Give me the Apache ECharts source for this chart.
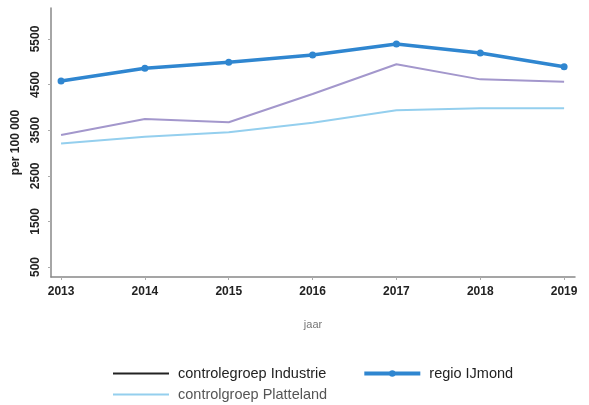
<!DOCTYPE html>
<html>
<head>
<meta charset="utf-8">
<script src="https://cdn.jsdelivr.net/npm/echarts@6/dist/echarts.min.js"></script>
<style>
  body { margin: 0; background: #fff; }
  #chart { width: 589px; height: 405px; }
</style>
</head>
<body>
<div id="chart"></div>
<script>
// jaren en waarden per 100 000
var years = [2013, 2014, 2015, 2016, 2017, 2018, 2019];
var regioIJmond = [4580, 4857, 4990, 5150, 5390, 5195, 4890];
var industrie = [3395, 3745, 3675, 4295, 4945, 4615, 4560];
var platteland = [3210, 3355, 3455, 3665, 3940, 3980, 3980];
var yTicks = [500, 1500, 2500, 3500, 4500, 5500];

function pairs(vals) {
  return years.map(function (y, i) { return [y, vals[i]]; });
}

var chart = echarts.init(document.getElementById('chart'));
var font = 'Liberation Sans, Arial, sans-serif';

var option = {
  animation: false,
  grid: { left: 51, right: 14, top: 8, bottom: 128 },
  xAxis: {
    type: 'value',
    min: 2012.88,
    max: 2019.13,
    name: 'jaar',
    nameLocation: 'middle',
    nameGap: 42,
    nameTextStyle: { color: '#777', fontSize: 11, fontFamily: font },
    splitLine: { show: false },
    axisLine: { show: true, lineStyle: { color: '#888', width: 1.5 } },
    axisTick: { show: true, length: 3, lineStyle: { color: '#aaa' }, customValues: years },
    axisLabel: {
      customValues: years,
      color: '#222', fontSize: 12, fontWeight: 'bold', fontFamily: font, margin: 9,
      formatter: function (v) { return String(v); }
    }
  },
  yAxis: {
    type: 'value',
    min: 281,
    max: 6180,
    name: 'per 100 000',
    nameLocation: 'middle',
    nameRotate: 90,
    nameGap: 25,
    nameTextStyle: { color: '#222', fontSize: 12, fontWeight: 'bold', fontFamily: font },
    splitLine: { show: false },
    axisLine: { show: true, lineStyle: { color: '#888', width: 1.5 } },
    axisTick: { show: true, length: 3, lineStyle: { color: '#aaa' }, customValues: yTicks },
    axisLabel: {
      customValues: yTicks,
      rotate: 90,
      color: '#222', fontSize: 12, fontWeight: 'bold', fontFamily: font, margin: 9,
      formatter: function (v) { return String(v); }
    }
  },
  legend: [
    {
      left: 107, top: 361,
      itemWidth: 56, itemHeight: 8, itemGap: 36,
      textStyle: { color: '#222', fontSize: 14.5, fontFamily: font, padding: [0, 0, 0, 4] },
      data: [
        { name: 'controlegroep Industrie', lineStyle: { color: '#222' }, itemStyle: { opacity: 0 } },
        { name: 'regio IJmond', lineStyle: { width: 4 } }
      ]
    },
    {
      left: 107, top: 382,
      itemWidth: 56, itemHeight: 8,
      textStyle: { color: '#555', fontSize: 14.5, fontFamily: font, padding: [0, 0, 0, 4] },
      data: [
        { name: 'controlgroep Platteland', itemStyle: { opacity: 0 } }
      ]
    }
  ],
  series: [
    {
      name: 'controlegroep Industrie',
      type: 'line',
      data: pairs(industrie),
      symbol: 'none',
      lineStyle: { color: '#a397cc', width: 2 },
      itemStyle: { color: '#a397cc' }
    },
    {
      name: 'controlgroep Platteland',
      type: 'line',
      data: pairs(platteland),
      symbol: 'none',
      lineStyle: { color: '#94cfee', width: 2 },
      itemStyle: { color: '#94cfee' }
    },
    {
      name: 'regio IJmond',
      type: 'line',
      data: pairs(regioIJmond),
      symbol: 'circle',
      symbolSize: 7,
      lineStyle: { color: '#2f86d0', width: 3.5 },
      itemStyle: { color: '#2f86d0' }
    }
  ]
};

chart.setOption(option);
</script>
</body>
</html>
